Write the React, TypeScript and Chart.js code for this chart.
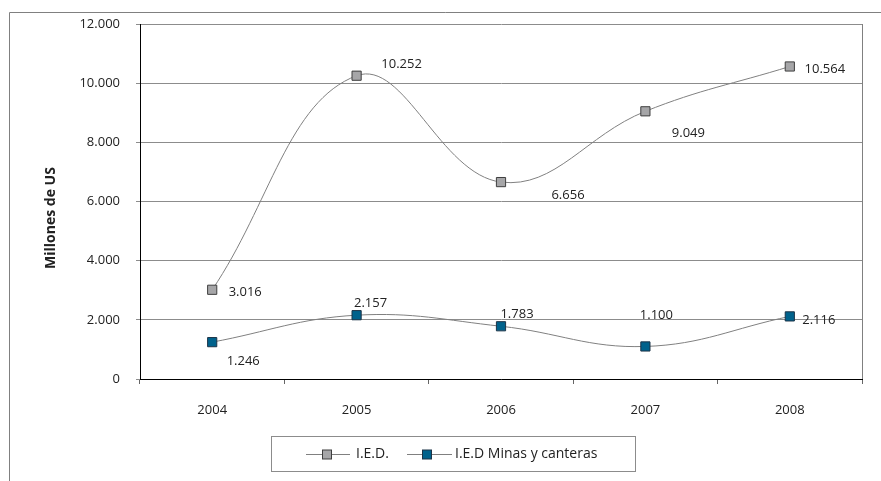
import React, { useEffect, useRef } from "react";
import { Chart, registerables } from "chart.js";

Chart.register(...registerables);

const categories = ["2004", "2005", "2006", "2007", "2008"];
const iedValues = [3016, 10252, 6656, 9049, 10564];
const minasValues = [1246, 2157, 1783, 1100, 2116];
const seriesNames = ["I.E.D.", "I.E.D Minas y canteras"];
const yTitle = "Millones de US";

// label offsets (px) relative to each point
const iedLabelDx = [33, 45, 67, 43, 35];
const iedLabelDy = [3, -11, 13, 22, 3];
const minasLabelDx = [31, 14, 16, 11, 29];
const minasLabelDy = [19, -12, -12, -31, 4];

const FONT = "'Open Sans', Lato, sans-serif";
const fmt = (v: number) => String(Math.round(v)).replace(/\B(?=(\d{3})+(?!\d))/g, ".");

const colors = {
  iedFill: "#a6a6a8",
  iedBorder: "#3f3f3f",
  minasFill: "#00628c",
  minasBorder: "#1c3448",
  line: "#808080",
  text: "#222222",
};

const customPlugin = {
  id: "custom",
  afterDraw(chart: any) {
    const ctx = chart.ctx;
    const area = chart.chartArea;
    ctx.save();
    // outer frame
    ctx.strokeStyle = "#808080";
    ctx.lineWidth = 1;
    ctx.beginPath();
    ctx.moveTo(1.5, 480);
    ctx.lineTo(1.5, 4.5);
    ctx.lineTo(880, 4.5);
    ctx.stroke();
    // right plot border
    ctx.beginPath();
    ctx.moveTo(Math.round(area.right) + 0.5, area.top);
    ctx.lineTo(Math.round(area.right) + 0.5, area.bottom);
    ctx.stroke();

    // data labels
    ctx.fillStyle = colors.text;
    ctx.font = `13px ${FONT}`;
    ctx.textAlign = "center";
    ctx.textBaseline = "middle";
    const offs = [
      [iedLabelDx, iedLabelDy],
      [minasLabelDx, minasLabelDy],
    ];
    chart.data.datasets.forEach((ds: any, di: number) => {
      const meta = chart.getDatasetMeta(di);
      meta.data.forEach((pt: any, i: number) => {
        ctx.fillText(fmt(ds.data[i]), pt.x + offs[di][0][i], pt.y + offs[di][1][i]);
      });
    });

    // y title
    ctx.save();
    ctx.translate(43, 210);
    ctx.rotate(-Math.PI / 2);
    ctx.font = `bold 14px ${FONT}`;
    ctx.fillStyle = colors.text;
    ctx.fillText(yTitle, 0, 0);
    ctx.restore();

    // legend
    const lx = 263.5, ly = 428.5, lw = 364, lh = 35;
    ctx.strokeStyle = "#8c8c8c";
    ctx.strokeRect(lx, ly, lw, lh);
    const cy = 446;
    const items = [
      { x0: 298, x1: 342, mx: 319, tx: 348, fill: colors.iedFill, border: colors.iedBorder },
      { x0: 399, x1: 444, mx: 419, tx: 447, fill: colors.minasFill, border: colors.minasBorder },
    ];
    items.forEach((it, i) => {
      ctx.strokeStyle = colors.line;
      ctx.lineWidth = 1;
      ctx.beginPath();
      ctx.moveTo(it.x0, cy + 0.5);
      ctx.lineTo(it.x1, cy + 0.5);
      ctx.stroke();
      ctx.fillStyle = it.fill;
      ctx.fillRect(it.mx - 4.5, cy - 4, 9, 9);
      ctx.strokeStyle = it.border;
      ctx.strokeRect(it.mx - 4.5, cy - 4, 9, 9);
      ctx.fillStyle = colors.text;
      ctx.font = `14px ${FONT}`;
      ctx.textAlign = "left";
      ctx.textBaseline = "middle";
      ctx.fillText(seriesNames[i], it.tx, cy);
    });
    ctx.restore();
  },
};

export default function App() {
  const ref = useRef<HTMLCanvasElement>(null);
  useEffect(() => {
    if (!ref.current) return;
    const chart = new Chart(ref.current, {
      type: "line",
      data: {
        labels: categories,
        datasets: [
          {
            label: seriesNames[0],
            data: iedValues,
            borderColor: colors.line,
            borderWidth: 1,
            tension: 0.4,
            pointStyle: "rect",
            pointRadius: 6.5,
            pointBackgroundColor: colors.iedFill,
            pointBorderColor: colors.iedBorder,
            pointBorderWidth: 1,
          },
          {
            label: seriesNames[1],
            data: minasValues,
            borderColor: colors.line,
            borderWidth: 1,
            tension: 0.4,
            pointStyle: "rect",
            pointRadius: 6.5,
            pointBackgroundColor: colors.minasFill,
            pointBorderColor: colors.minasBorder,
            pointBorderWidth: 1,
          },
        ],
      },
      options: {
        responsive: false,
        animation: false,
        layout: { padding: { top: 16, right: 19, bottom: 42, left: 0 } },
        plugins: {
          legend: { display: false },
          tooltip: { enabled: false },
        },
        scales: {
          x: {
            offset: true,
            grid: { offset: true, drawOnChartArea: false, drawTicks: true, tickLength: 5, color: "#666" },
            border: { color: "#000" },
            ticks: { padding: 18, color: colors.text, font: { family: FONT, size: 13 } },
            afterFit: (s: any) => { s.height = 60; },
          },
          y: {
            min: 0,
            max: 12000,
            ticks: {
              stepSize: 2000,
              padding: 16,
              color: colors.text,
              font: { family: FONT, size: 13 },
              callback: (v: any) => fmt(Number(v)),
            },
            grid: { color: "#8c8c8c", tickLength: 4 },
            border: { color: "#000" },
            afterFit: (s: any) => { s.width = 132; s.paddingTop = 0; s.paddingBottom = 0; },
          },
        },
      },
      plugins: [customPlugin],
    });
    return () => chart.destroy();
  }, []);
  return (
    <div style={{ position: "absolute", left: 8, top: 8, width: 873, height: 473 }}>
      <canvas ref={ref} width={873} height={473} />
    </div>
  );
}
